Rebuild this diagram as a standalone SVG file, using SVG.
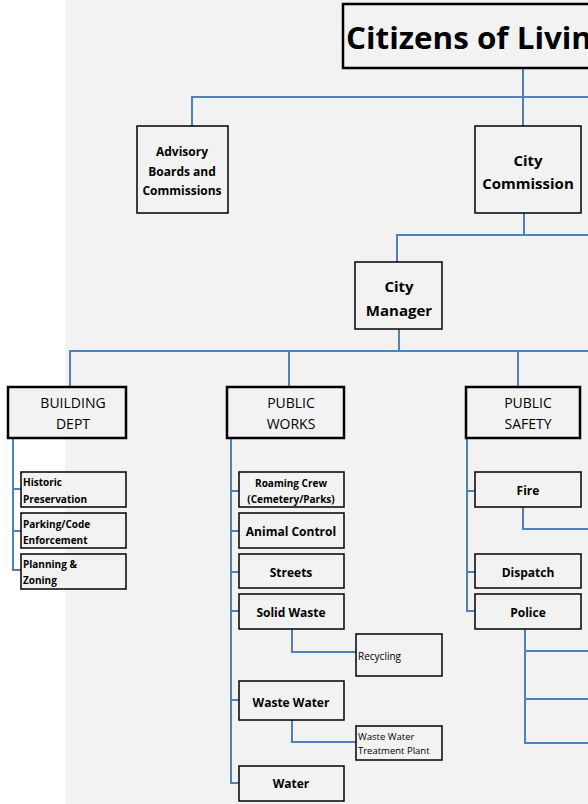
<svg xmlns="http://www.w3.org/2000/svg" width="588" height="804" viewBox="0 0 588 804">
<style>
.bg{fill:#f2f2f2}
.box{fill:#f2f2f2;stroke:#000;stroke-width:1.5}
.thick{fill:#f2f2f2;stroke:#000;stroke-width:2.5}
.ln{fill:none;stroke:#4f81bd;stroke-width:2}
text{font-family:"Open Sans","Liberation Sans",sans-serif;fill:#000}
.b{font-weight:bold}
.c{text-anchor:middle}
</style>
<rect x="0" y="0" width="588" height="804" fill="#fff"/>
<rect class="bg" x="65" y="0" width="523" height="804"/>
<g id="connectors">
<path class="ln" d="M523 68V126M192 126V97H588"/>
<path class="ln" d="M524 213V235M397 262V235H588"/>
<path class="ln" d="M399 329V351M70 387V351H588M289 351V386M518 351V387"/>
<path class="ln" d="M13 438V570H21M13 489H21M13 531H21"/>
<path class="ln" d="M231 438V783H239M231 491H239M231 531H239M231 572H239M231 611H239M231 700H239"/>
<path class="ln" d="M292 629V652H356M292 720V742H356"/>
<path class="ln" d="M467 438V611H475M467 491H475M467 572H475"/>
<path class="ln" d="M523 507V529H588"/>
<path class="ln" d="M525 629V743H588M525 651H588M525 699H588"/>
</g>
<g id="title">
<rect class="thick" x="343" y="4" width="260" height="64"/>
<text class="b" x="346" y="49" font-size="30" textLength="246" lengthAdjust="spacingAndGlyphs">Citizens of Livin</text>
</g>
<g id="advisory">
<rect class="box" x="137" y="126" width="91" height="87"/>
<text class="b c" x="182" y="156" font-size="12">Advisory</text>
<text class="b c" x="182" y="176" font-size="12">Boards and</text>
<text class="b c" x="182" y="195" font-size="12">Commissions</text>
</g>
<g id="city-commission">
<rect class="box" x="475" y="126" width="106" height="87"/>
<text class="b c" x="528" y="166" font-size="15">City</text>
<text class="b c" x="528" y="189" font-size="15">Commission</text>
</g>
<g id="city-manager">
<rect class="box" x="355" y="262" width="87" height="67"/>
<text class="b c" x="399" y="292" font-size="15">City</text>
<text class="b c" x="399" y="316" font-size="15">Manager</text>
</g>
<g id="building-dept">
<rect class="thick" x="8" y="387" width="118" height="51"/>
<text class="c" x="73" y="408" font-size="14">BUILDING</text>
<text class="c" x="73" y="429" font-size="14">DEPT</text>
</g>
<g id="public-works">
<rect class="thick" x="227" y="387" width="117" height="51"/>
<text class="c" x="291" y="408" font-size="14">PUBLIC</text>
<text class="c" x="291" y="429" font-size="14">WORKS</text>
</g>
<g id="public-safety">
<rect class="thick" x="466" y="387" width="114" height="51"/>
<text class="c" x="528" y="408" font-size="14">PUBLIC</text>
<text class="c" x="528" y="429" font-size="14">SAFETY</text>
</g>
<g id="historic">
<rect class="box" x="21" y="472" width="105" height="35"/>
<text class="b" x="23" y="486" font-size="10">Historic</text>
<text class="b" x="23" y="503" font-size="10">Preservation</text>
</g>
<g id="parking">
<rect class="box" x="21" y="513" width="105" height="35"/>
<text class="b" x="23" y="528" font-size="10">Parking/Code</text>
<text class="b" x="23" y="544" font-size="10">Enforcement</text>
</g>
<g id="planning">
<rect class="box" x="21" y="554" width="105" height="35"/>
<text class="b" x="23" y="568" font-size="10">Planning &amp;</text>
<text class="b" x="23" y="584" font-size="10">Zoning</text>
</g>
<g id="roaming">
<rect class="box" x="239" y="472" width="105" height="35"/>
<text class="b c" x="291" y="487" font-size="10">Roaming Crew</text>
<text class="b c" x="291" y="503" font-size="10">(Cemetery/Parks)</text>
</g>
<g id="animal">
<rect class="box" x="239" y="513" width="105" height="35"/>
<text class="b c" x="291" y="536" font-size="12">Animal Control</text>
</g>
<g id="streets">
<rect class="box" x="239" y="554" width="105" height="34"/>
<text class="b c" x="291" y="577" font-size="12">Streets</text>
</g>
<g id="solid-waste">
<rect class="box" x="239" y="594" width="105" height="35"/>
<text class="b c" x="291" y="617" font-size="12">Solid Waste</text>
</g>
<g id="recycling">
<rect class="box" x="356" y="634" width="86" height="42"/>
<text x="358" y="660" font-size="10">Recycling</text>
</g>
<g id="waste-water">
<rect class="box" x="239" y="681" width="105" height="39"/>
<text class="b c" x="291" y="707" font-size="12">Waste Water</text>
</g>
<g id="wwtp">
<rect class="box" x="356" y="726" width="86" height="34"/>
<text x="358" y="740" font-size="9.5">Waste Water</text>
<text x="358" y="754" font-size="9.5">Treatment Plant</text>
</g>
<g id="water">
<rect class="box" x="239" y="766" width="105" height="35"/>
<text class="b c" x="291" y="788" font-size="12">Water</text>
</g>
<g id="fire">
<rect class="box" x="475" y="472" width="106" height="35"/>
<text class="b c" x="528" y="495" font-size="12">Fire</text>
</g>
<g id="dispatch">
<rect class="box" x="475" y="554" width="106" height="34"/>
<text class="b c" x="528" y="577" font-size="12">Dispatch</text>
</g>
<g id="police">
<rect class="box" x="475" y="594" width="106" height="35"/>
<text class="b c" x="528" y="617" font-size="12">Police</text>
</g>
</svg>
